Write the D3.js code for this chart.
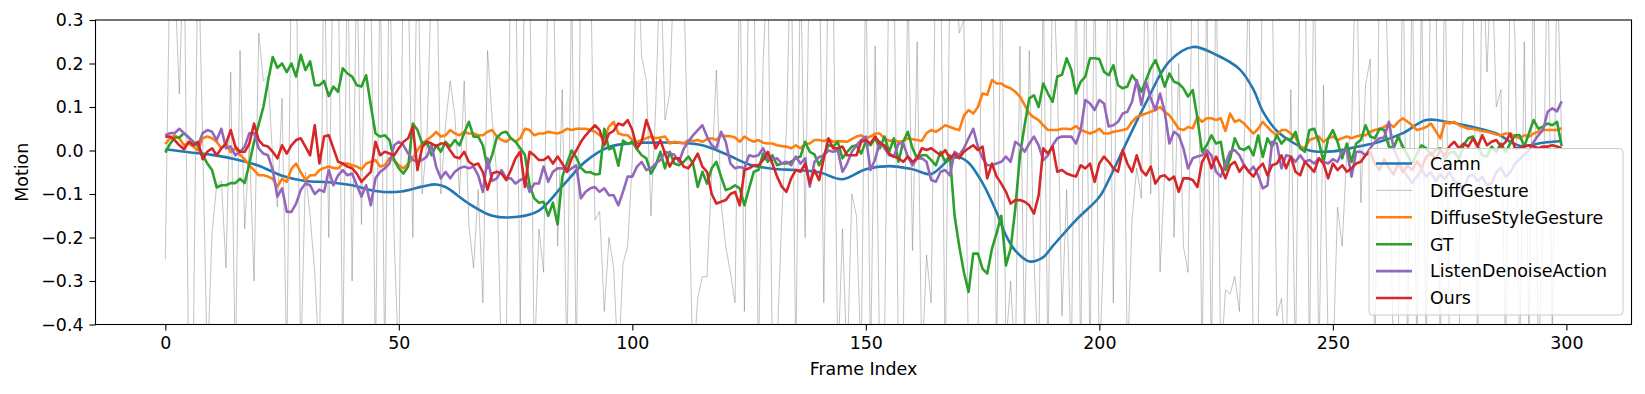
<!DOCTYPE html>
<html>
<head>
<meta charset="utf-8">
<script src="https://cdn.jsdelivr.net/npm/d3@7"></script>
<style>
	body { margin: 0; background: #fff; }
	svg { display: block; font-family: "DejaVu Sans", sans-serif; }
	.tick text { font-size: 17.4px; fill: #000; }
	.tick line { stroke: #000; stroke-width: 1.1; }
	.line { fill: none; stroke-linejoin: round; stroke-linecap: butt; }
</style>
</head>
<body>
<svg width="1645" height="394"></svg>
<script>
// values, one per frame (0..299) unless noted
var xTicks = [0, 50, 100, 150, 200, 250, 300];
var yTicks = [-0.4, -0.3, -0.2, -0.1, 0.0, 0.1, 0.2, 0.3];

// Camn is smooth, so it is read at selected frames
var camnFrames = [0,5,10,15,20,25,30,35,40,45,50,55,58,60,65,70,75,80,85,90,95,100,105,110,115,120,125,130,135,140,145,150,155,160,164,168,170,172,175,178,180,182,185,188,190,195,200,202,205,210,215,220,225,230,233,235,238,240,245,250,255,260,265,270,275,280,285,290,295,299];
var camn = [0.003,-0.004,-0.01,-0.02,-0.035,-0.058,-0.07,-0.073,-0.08,-0.093,-0.095,-0.083,-0.078,-0.084,-0.122,-0.15,-0.153,-0.138,-0.082,-0.025,0.008,0.017,0.018,0.018,0.012,-0.008,-0.032,-0.042,-0.045,-0.05,-0.066,-0.043,-0.036,-0.043,-0.054,-0.02,-0.016,-0.028,-0.075,-0.142,-0.195,-0.23,-0.255,-0.245,-0.22,-0.16,-0.107,-0.068,0.0,0.11,0.205,0.238,0.22,0.187,0.14,0.09,0.045,0.028,0.0,-0.002,0.008,0.02,0.04,0.07,0.065,0.054,0.039,0.011,0.018,0.022];

var diffGesture = [
	-0.25,0.45,0.4,0.13,0.5,-0.5,-0.45,0.5,0.02,-0.5,
	-0.19,-0.08,-0.07,-0.27,0.18,-0.5,0.23,-0.18,0.02,-0.3,
	0.27,0.16,0.17,-0.02,-0.13,0.12,-0.5,0.45,0.5,-0.5,
	-0.05,-0.15,-0.28,-0.5,0.5,-0.2,0.5,0.45,-0.5,0.5,
	-0.3,0.45,-0.17,0.5,0.4,-0.5,0.45,-0.5,0.5,-0.2,
	-0.5,0.5,0.4,-0.2,0.5,-0.1,0.02,0.4,0.5,-0.1,
	0.06,0.16,0.08,-0.1,0.16,-0.17,-0.27,-0.09,-0.35,0.23,
	0.07,-0.06,-0.5,-0.45,0.5,0.45,-0.4,0.5,0.45,-0.5,
	-0.18,-0.28,0.45,0.5,-0.22,0.14,-0.5,0.4,-0.5,0.45,
	0.5,0.45,-0.16,-0.14,-0.37,-0.2,-0.27,-0.5,-0.26,-0.22,
	-0.02,0.5,0.215,0.16,-0.15,0.1,0.45,0.07,0.13,0.45,
	0.5,0.4,-0.06,-0.5,-0.34,-0.29,-0.29,-0.05,0.185,-0.12,
	-0.22,-0.28,-0.35,0.45,-0.37,0.5,0.45,-0.5,0.2,0.45,
	-0.5,-0.45,-0.15,0.05,0.5,-0.5,0.45,-0.2,0.5,0.45,
	0.5,-0.35,0.5,0.4,-0.5,-0.18,-0.5,-0.1,-0.15,-0.5,
	0.45,-0.5,0.24,-0.5,-0.45,0.5,0.45,-0.5,-0.45,0.4,
	-0.23,0.25,-0.5,-0.24,-0.35,0.5,0.45,-0.5,0.4,0.5,
	0.27,0.3,-0.5,-0.5,-0.45,0.5,0.45,0.5,-0.5,0.5,
	-0.45,-0.3,-0.5,0.24,-0.45,0.23,-0.25,-0.5,0.4,-0.5,
	0.45,0.17,-0.38,-0.09,-0.5,0.45,-0.5,0.5,-0.5,0.45,
	-0.5,-0.2,0.5,-0.35,0.5,0.45,-0.5,-0.16,-0.04,-0.11,
	0.5,-0.1,0.45,-0.28,-0.05,0.5,-0.2,0.2,-0.22,-0.28,
	0.5,0.45,-0.5,0.4,-0.5,0.45,-0.5,-0.32,-0.33,-0.29,
	-0.37,0.0,0.4,-0.5,-0.45,0.5,0.45,0.4,-0.38,-0.34,
	-0.5,0.14,-0.5,0.45,0.5,-0.5,0.5,-0.5,0.15,-0.45,
	-0.5,-0.13,-0.22,0.0,0.04,0.5,-0.12,0.15,0.21,-0.5,
	0.45,0.5,0.1,-0.5,-0.45,0.5,-0.5,0.45,-0.5,0.4,
	-0.5,0.5,0.45,-0.5,0.5,-0.5,-0.45,-0.5,0.45,0.5,
	0.4,-0.5,0.5,0.18,0.45,0.1,0.14,-0.5,0.45,0.26,
	-0.5,0.25,-0.45,0.45,-0.5,-0.15,0.5,-0.45,0.45,0.02
];

var diffuseStyle = [
	0.015,0.028,0.035,0.028,0.012,0.016,0.009,0.0,0.028,0.032,
	0.028,0.02,0.005,0.016,-0.004,0.005,-0.01,-0.02,-0.035,-0.045,
	-0.057,-0.057,-0.06,-0.065,-0.083,-0.065,-0.072,-0.042,-0.03,-0.05,
	-0.068,-0.057,-0.057,-0.045,-0.04,-0.037,-0.04,-0.041,-0.03,-0.03,
	-0.034,-0.037,-0.043,-0.03,-0.026,-0.022,-0.037,-0.034,-0.018,-0.022,
	-0.034,-0.041,-0.03,-0.018,0.001,0.016,0.024,0.032,0.043,0.032,
	0.035,0.047,0.039,0.035,0.043,0.039,0.039,0.035,0.035,0.043,
	0.047,0.032,0.024,0.02,0.028,0.02,0.028,0.05,0.047,0.035,
	0.039,0.039,0.043,0.041,0.039,0.043,0.05,0.047,0.05,0.05,
	0.05,0.047,0.043,0.035,0.028,0.055,0.066,0.039,0.036,0.035,
	0.024,0.02,0.024,0.028,0.032,0.028,0.03,0.032,0.016,0.02,
	0.018,0.016,0.024,0.022,0.024,0.02,0.026,0.028,0.024,0.035,
	0.033,0.033,0.03,0.02,0.032,0.025,0.02,0.024,0.018,0.016,
	0.016,0.012,0.01,0.009,0.005,0.012,0.005,0.016,0.016,0.024,
	0.024,0.022,0.026,0.02,0.022,0.021,0.02,0.026,0.032,0.035,
	0.028,0.032,0.039,0.039,0.028,0.022,0.024,0.02,0.022,0.028,
	0.026,0.024,0.022,0.04,0.047,0.043,0.05,0.058,0.054,0.05,
	0.047,0.08,0.093,0.085,0.1,0.131,0.128,0.162,0.154,0.154,
	0.147,0.143,0.135,0.124,0.105,0.085,0.076,0.07,0.058,0.047,
	0.047,0.047,0.05,0.05,0.049,0.056,0.047,0.043,0.039,0.043,
	0.05,0.039,0.039,0.043,0.045,0.047,0.05,0.066,0.077,0.081,
	0.085,0.089,0.093,0.1,0.089,0.081,0.066,0.05,0.047,0.054,
	0.051,0.077,0.066,0.074,0.074,0.07,0.074,0.045,0.085,0.066,
	0.07,0.062,0.05,0.039,0.05,0.066,0.054,0.043,0.035,0.047,
	0.047,0.039,0.03,0.009,0.005,0.024,0.028,0.032,0.02,0.028,
	0.032,0.024,0.028,0.032,0.028,0.032,0.035,0.035,0.043,0.047,
	0.05,0.054,0.062,0.054,0.066,0.074,0.066,0.058,0.047,0.05,
	0.054,0.062,0.045,0.028,0.066,0.062,0.066,0.058,0.054,0.05,
	0.05,0.047,0.045,0.043,0.04,0.037,0.035,0.039,0.039,0.032,
	0.028,0.035,0.032,0.039,0.043,0.047,0.047,0.047,0.047,0.051
];

var gt = [
	-0.005,0.015,0.03,0.03,0.04,0.03,0.02,0.01,-0.01,-0.03,
	-0.045,-0.085,-0.08,-0.08,-0.075,-0.075,-0.065,-0.075,-0.03,0.02,
	0.06,0.1,0.16,0.215,0.19,0.2,0.18,0.2,0.17,0.22,
	0.185,0.205,0.15,0.15,0.16,0.125,0.147,0.135,0.189,0.177,
	0.17,0.15,0.147,0.173,0.104,0.039,0.032,0.035,0.024,-0.022,
	-0.041,-0.053,-0.037,0.062,0.047,0.016,0.02,-0.011,0.012,-0.003,
	0.02,0.009,0.024,0.012,0.04,0.066,0.032,0.032,0.012,-0.04,
	-0.01,0.03,0.04,0.043,0.028,0.02,0.005,-0.01,-0.08,-0.11,
	-0.12,-0.118,-0.15,-0.12,-0.17,-0.06,-0.03,0.0,-0.016,-0.04,
	-0.05,-0.05,-0.055,-0.054,0.05,0.003,0.007,-0.035,0.023,0.015,
	0.02,0.003,-0.011,-0.018,-0.053,-0.034,-0.003,-0.041,-0.003,-0.03,
	-0.034,-0.026,-0.014,-0.03,-0.084,-0.049,-0.076,-0.041,-0.026,-0.06,
	-0.091,-0.087,-0.08,-0.087,-0.126,-0.087,-0.049,-0.045,-0.007,-0.026,
	-0.011,-0.034,-0.03,-0.03,-0.026,-0.018,-0.014,0.02,-0.003,-0.009,
	-0.034,-0.011,0.012,0.009,0.02,-0.018,-0.003,0.009,0.012,-0.007,
	0.02,0.012,0.028,0.005,0.032,-0.003,0.028,-0.026,0.02,0.043,
	0.005,-0.018,-0.011,-0.011,-0.022,-0.034,-0.003,-0.026,-0.011,-0.15,
	-0.22,-0.28,-0.325,-0.237,-0.237,-0.272,-0.283,-0.226,-0.19,-0.15,
	-0.264,-0.226,-0.134,-0.011,0.058,0.12,0.127,0.1,0.154,0.131,
	0.112,0.17,0.174,0.212,0.185,0.131,0.158,0.17,0.212,0.212,
	0.21,0.181,0.173,0.196,0.15,0.143,0.147,0.173,0.158,0.135,
	0.162,0.189,0.208,0.181,0.147,0.177,0.158,0.154,0.143,0.124,
	0.139,0.074,-0.003,0.012,0.035,0.016,0.02,-0.045,-0.018,0.028,
	0.005,0.001,0.009,-0.011,0.035,-0.015,0.028,0.009,0.035,0.016,
	0.028,0.024,0.043,0.005,-0.003,0.047,0.05,0.02,-0.026,0.028,
	0.047,0.02,-0.018,0.016,-0.026,0.016,0.024,0.058,0.032,0.028,
	0.05,0.047,0.009,0.005,0.032,0.009,-0.011,-0.03,-0.007,0.012,
	0.005,-0.011,0.001,0.005,-0.02,-0.005,-0.003,-0.02,0.012,0.028,
	0.032,0.01,-0.011,-0.014,0.009,-0.003,0.016,-0.003,0.016,0.035,
	0.035,0.009,0.04,0.07,0.05,0.055,0.062,0.058,0.066,0.01
];

var listenDenoise = [
	0.035,0.04,0.04,0.05,0.04,0.03,0.016,0.012,0.04,0.047,
	0.043,0.024,0.05,0.005,0.009,-0.011,-0.003,0.009,0.04,0.04,
	0.005,-0.007,-0.011,-0.045,-0.106,-0.087,-0.141,-0.141,-0.122,-0.091,
	-0.076,-0.08,-0.1,-0.09,-0.095,-0.045,-0.08,-0.057,-0.045,-0.057,
	-0.053,-0.08,-0.106,-0.08,-0.126,-0.064,-0.049,-0.041,-0.03,0.012,
	0.02,0.012,-0.007,-0.022,-0.026,-0.022,-0.014,0.012,-0.038,-0.064,
	-0.049,-0.064,-0.049,-0.041,-0.037,-0.041,-0.037,-0.057,-0.095,-0.018,
	-0.07,-0.064,-0.045,-0.064,-0.064,-0.076,-0.068,-0.064,-0.095,-0.076,
	-0.076,-0.037,-0.072,-0.049,-0.041,-0.041,-0.049,-0.041,-0.034,-0.11,
	-0.095,-0.087,-0.084,-0.095,-0.087,-0.103,-0.103,-0.126,-0.095,-0.06,
	-0.06,-0.037,-0.026,-0.045,-0.041,-0.03,-0.022,-0.003,-0.007,-0.01,
	-0.026,0.004,0.02,0.035,0.047,0.058,0.032,0.012,0.005,0.043,
	0.02,-0.03,-0.041,-0.038,-0.041,-0.011,-0.014,-0.011,0.005,-0.018,
	-0.022,-0.018,-0.03,-0.026,-0.034,-0.014,-0.03,-0.018,-0.083,-0.026,
	-0.015,-0.011,0.0,-0.003,0.0,-0.049,-0.03,-0.003,0.012,0.024,
	0.032,-0.045,-0.02,0.02,0.005,-0.011,-0.014,0.016,0.016,-0.014,
	-0.034,-0.018,-0.018,-0.026,-0.068,-0.072,-0.049,-0.045,-0.057,-0.003,
	-0.011,0.005,0.028,0.05,0.009,-0.018,-0.034,-0.034,-0.03,-0.026,
	-0.014,-0.026,0.02,0.012,-0.003,0.016,0.032,0.012,-0.022,-0.011,
	0.012,0.028,0.032,0.032,0.032,0.016,0.047,0.116,0.108,0.093,
	0.116,0.108,0.055,0.058,0.066,0.085,0.089,0.112,0.162,0.105,
	0.158,0.12,0.093,0.131,0.089,0.016,0.043,0.035,0.005,-0.041,
	-0.018,-0.014,-0.011,0.001,-0.011,-0.049,-0.06,-0.03,-0.003,0.001,
	-0.011,-0.034,-0.049,-0.037,-0.057,-0.087,-0.08,0.02,0.016,-0.041,
	-0.011,-0.014,-0.026,-0.011,-0.026,-0.022,-0.03,-0.018,-0.026,-0.03,
	-0.02,-0.026,-0.003,0.001,-0.06,-0.003,-0.003,-0.011,0.005,0.02,
	0.028,0.03,0.066,0.005,-0.02,-0.045,-0.06,-0.075,-0.06,-0.045,
	-0.06,-0.05,-0.07,-0.055,-0.065,-0.05,-0.07,-0.075,-0.09,-0.06,
	-0.055,-0.07,-0.06,-0.08,-0.075,-0.05,-0.04,-0.06,-0.05,-0.03,
	-0.02,-0.01,0.0,0.02,0.035,0.047,0.089,0.097,0.09,0.113
];

var ours = [
	0.032,0.032,0.024,0.012,0.003,0.02,0.012,0.02,-0.02,-0.003,
	0.005,-0.011,0.005,0.016,0.047,0.009,-0.003,-0.003,0.016,0.062,
	0.024,0.012,0.009,-0.003,-0.018,0.012,-0.007,0.012,0.024,0.028,
	0.009,-0.011,0.058,-0.03,0.032,0.035,0.005,-0.026,-0.03,-0.037,
	-0.041,-0.053,-0.072,-0.06,-0.049,0.02,-0.011,-0.003,-0.007,-0.011,
	0.005,0.02,0.028,0.055,-0.045,0.008,0.02,0.016,0.01,0.016,
	0.016,0.0,-0.015,-0.018,-0.003,-0.026,-0.034,-0.03,-0.05,-0.09,
	-0.053,-0.049,-0.053,-0.068,-0.045,-0.018,-0.003,-0.084,-0.003,-0.011,
	-0.022,-0.022,-0.014,-0.03,-0.014,-0.03,-0.049,-0.018,0.0,0.02,
	0.035,0.047,0.058,0.047,0.012,0.039,0.045,0.062,0.058,0.07,
	0.047,0.005,0.02,0.07,0.04,0.005,0.024,-0.007,-0.037,-0.018,
	-0.018,-0.037,-0.041,-0.026,-0.007,-0.037,-0.049,-0.1,-0.122,-0.118,
	-0.114,-0.1,-0.095,-0.126,-0.045,-0.041,-0.034,-0.034,-0.022,-0.003,
	-0.03,-0.06,-0.083,-0.095,-0.064,-0.045,-0.049,-0.03,-0.076,-0.045,
	-0.068,-0.018,0.028,0.005,0.005,0.009,-0.011,-0.011,-0.011,0.02,
	0.024,0.016,0.032,0.016,0.012,-0.007,-0.014,-0.018,-0.026,-0.014,
	-0.026,-0.018,0.005,0.001,0.005,-0.003,-0.011,0.001,-0.018,-0.007,
	-0.018,-0.003,0.005,0.012,0.001,0.009,-0.064,-0.03,-0.06,-0.076,
	-0.095,-0.122,-0.114,-0.114,-0.118,-0.126,-0.145,-0.103,0.005,-0.007,
	0.009,-0.049,-0.045,-0.053,-0.057,-0.06,-0.034,-0.041,-0.03,-0.072,
	-0.03,-0.014,-0.026,-0.041,-0.049,0.001,-0.03,-0.049,-0.011,-0.045,
	-0.057,-0.037,-0.076,-0.06,-0.057,-0.068,-0.06,-0.095,-0.064,-0.064,
	-0.068,-0.084,-0.026,-0.007,-0.041,-0.014,-0.037,-0.064,-0.034,-0.026,
	-0.049,-0.034,-0.049,-0.06,-0.041,-0.03,-0.057,-0.034,-0.03,-0.011,
	-0.041,-0.014,-0.049,-0.057,-0.026,-0.037,-0.049,-0.018,-0.03,-0.064,
	-0.03,-0.045,-0.034,-0.049,-0.041,-0.03,-0.026,-0.011,-0.003,-0.03,
	-0.045,-0.02,-0.04,-0.055,-0.03,-0.05,-0.035,-0.045,-0.025,-0.04,
	-0.015,-0.005,-0.02,0.0,-0.01,0.01,0.02,0.005,0.016,0.009,
	0.028,0.009,0.035,0.012,0.02,0.024,0.009,0.02,0.039,0.005,
	0.005,0.009,0.012,0.009,0.005,0.009,0.009,0.012,0.009,0.005
];

var seriesNames = ["Camn", "DiffGesture", "DiffuseStyleGesture", "GT", "ListenDenoiseAction", "Ours"];
var seriesColors = ["#1f77b4", "#808080", "#ff7f0e", "#2ca02c", "#9467bd", "#d62728"];

function frames(values) {
	return values.map(function(v, i) { return {frame: i, value: v}; });
}

var series = [
	{name: seriesNames[0], color: seriesColors[0], data: camn.map(function(v, i) { return {frame: camnFrames[i], value: v}; }), smooth: true},
	{name: seriesNames[1], color: seriesColors[1], data: frames(diffGesture), thin: true},
	{name: seriesNames[2], color: seriesColors[2], data: frames(diffuseStyle)},
	{name: seriesNames[3], color: seriesColors[3], data: frames(gt)},
	{name: seriesNames[4], color: seriesColors[4], data: frames(listenDenoise)},
	{name: seriesNames[5], color: seriesColors[5], data: frames(ours)}
];

var svg = d3.select("svg"),
	plotLeft = 95.5, plotRight = 1631.5, plotTop = 20, plotBottom = 324.5,
	lineW = 2.6, thinW = 0.8;

// matplotlib pads the x range by 5% of the data span
var x = d3.scaleLinear().domain([-14.95, 313.95]).range([plotLeft, plotRight]);
var y = d3.scaleLinear().domain([-0.4, 0.3]).range([plotBottom, plotTop]);

svg.append("defs").append("clipPath")
	.attr("id", "plot-clip")
	.append("rect")
	.attr("x", plotLeft).attr("y", plotTop)
	.attr("width", plotRight - plotLeft).attr("height", plotBottom - plotTop);

var lineGen = d3.line()
	.x(function(d) { return x(d.frame); })
	.y(function(d) { return y(d.value); });

var plot = svg.append("g").attr("clip-path", "url(#plot-clip)");

series.forEach(function(s) {
	plot.append("path")
		.datum(s.data)
		.attr("class", "line")
		.attr("stroke", s.color)
		.attr("stroke-width", s.thin ? thinW : lineW)
		.attr("stroke-opacity", s.thin ? 0.6 : 1)
		.attr("d", s.smooth ? lineGen.curve(d3.curveCatmullRom.alpha(0.5))(s.data) : lineGen.curve(d3.curveLinear)(s.data));
});

var xAxis = svg.append("g")
	.attr("transform", "translate(0," + plotBottom + ")")
	.call(d3.axisBottom(x).tickValues(xTicks).tickSize(6).tickPadding(6));
xAxis.select(".domain").remove();

var yAxis = svg.append("g")
	.attr("transform", "translate(" + plotLeft + ",0)")
	.call(d3.axisLeft(y).tickValues(yTicks).tickFormat(d3.format(".1f")).tickSize(6).tickPadding(6));
yAxis.select(".domain").remove();

svg.selectAll(".tick text").attr("font-family", "DejaVu Sans").attr("font-size", 17.4);

// frame on top of the lines
svg.append("rect")
	.attr("x", plotLeft).attr("y", plotTop)
	.attr("width", plotRight - plotLeft).attr("height", plotBottom - plotTop)
	.attr("fill", "none")
	.attr("stroke", "#000")
	.attr("stroke-width", 1.1);

svg.append("text")
	.attr("x", (plotLeft + plotRight) / 2)
	.attr("y", 374.5)
	.attr("text-anchor", "middle")
	.attr("font-size", 17.4)
	.text("Frame Index");

svg.append("text")
	.attr("transform", "translate(28," + ((plotTop + plotBottom) / 2) + ") rotate(-90)")
	.attr("text-anchor", "middle")
	.attr("font-size", 17.4)
	.text("Motion");

// legend, lower right
var legend = svg.append("g").attr("class", "legend");
var lx = 1369, ly = 148.5, lw = 254, lh = 166.5, rowH = 26.9;

legend.append("rect")
	.attr("x", lx).attr("y", ly)
	.attr("width", lw).attr("height", lh)
	.attr("rx", 3.5).attr("ry", 3.5)
	.attr("fill", "#fff").attr("fill-opacity", 0.8)
	.attr("stroke", "#cccccc").attr("stroke-width", 1);

series.forEach(function(s, i) {
	var cy = ly + 15 + i * rowH;
	legend.append("line")
		.attr("x1", lx + 7).attr("x2", lx + 43)
		.attr("y1", cy).attr("y2", cy)
		.attr("stroke", s.color)
		.attr("stroke-width", s.thin ? thinW : lineW)
		.attr("stroke-opacity", s.thin ? 0.6 : 1);
	legend.append("text")
		.attr("x", lx + 61)
		.attr("y", cy + 6.3)
		.attr("font-size", 17.4)
		.text(s.name);
});
</script>
</body>
</html>
